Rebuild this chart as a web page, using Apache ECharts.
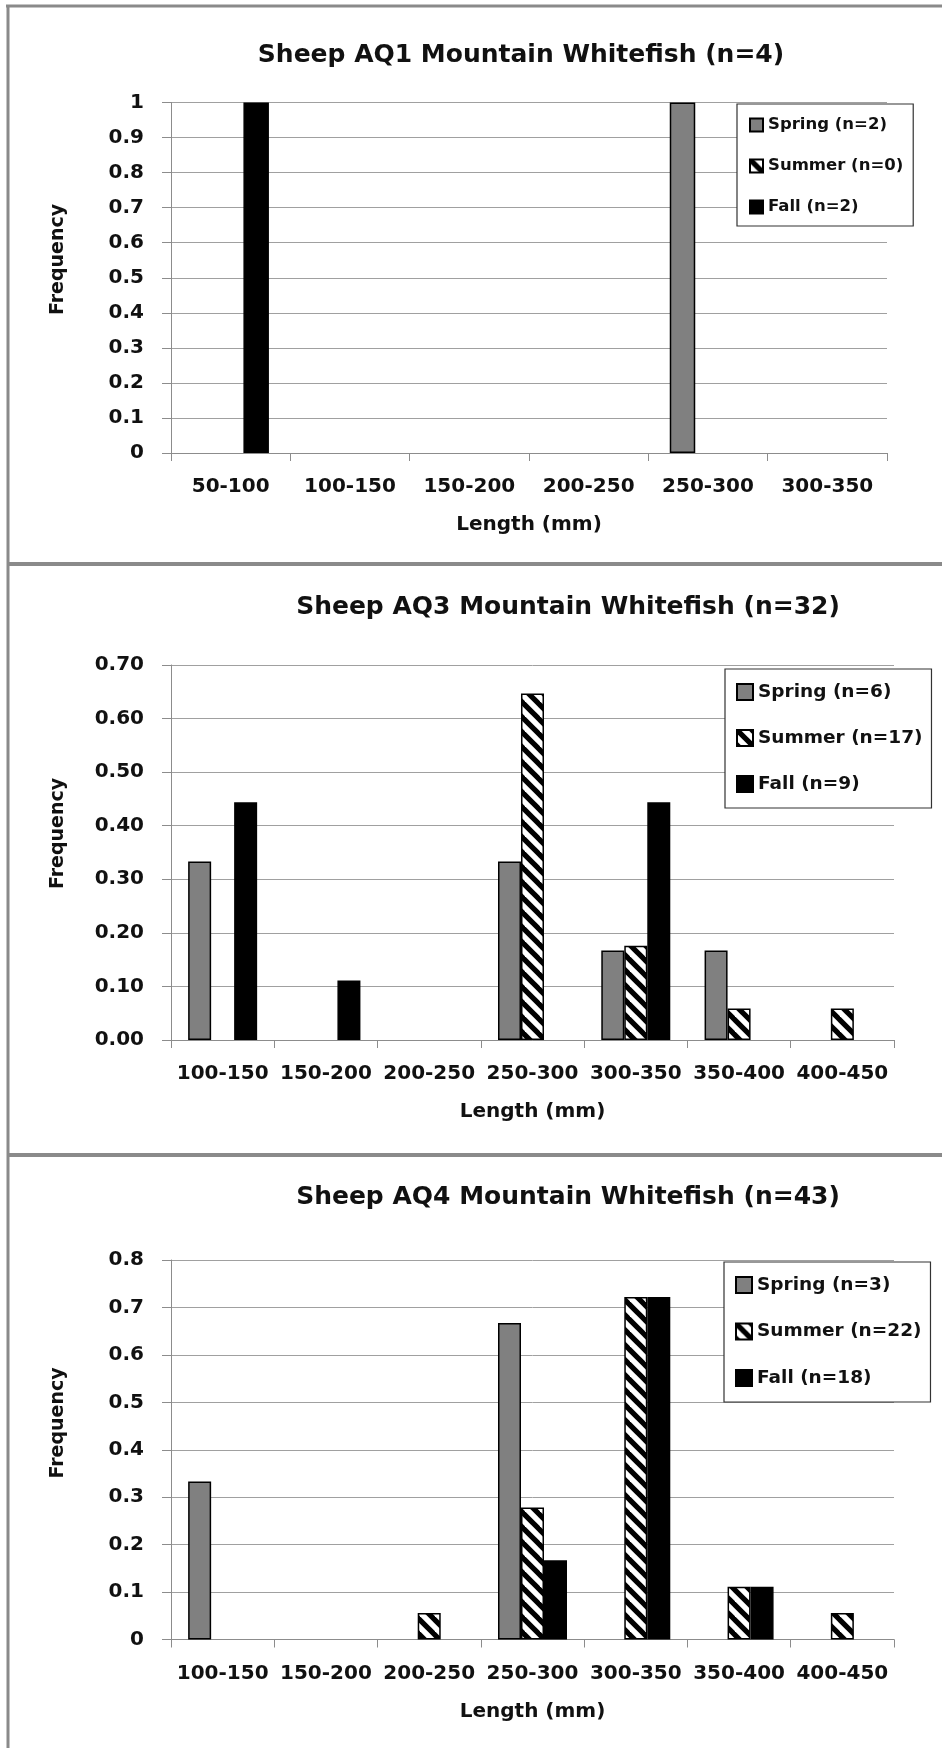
<!DOCTYPE html>
<html>
<head>
<meta charset="utf-8">
<script src="https://cdn.jsdelivr.net/npm/echarts@6/dist/echarts.min.js"></script>
<style>
html,body{margin:0;padding:0;background:#fff;}
#chart{width:942px;height:1748px;}
</style>
</head>
<body>
<div id="chart"></div>
<script>
// ---- data ----
const titles = ['Sheep AQ1 Mountain Whitefish (n=4)', 'Sheep AQ3 Mountain Whitefish (n=32)', 'Sheep AQ4 Mountain Whitefish (n=43)'];
const cats1 = ['50-100', '100-150', '150-200', '200-250', '250-300', '300-350'];
const cats2 = ['100-150', '150-200', '200-250', '250-300', '300-350', '350-400', '400-450'];
const cats3 = ['100-150', '150-200', '200-250', '250-300', '300-350', '350-400', '400-450'];
const names1 = ['Spring (n=2)', 'Summer (n=0)', 'Fall (n=2)'];
const names2 = ['Spring (n=6)', 'Summer (n=17)', 'Fall (n=9)'];
const names3 = ['Spring (n=3)', 'Summer (n=22)', 'Fall (n=18)'];
const spring1 = [0, 0, 0, 0, 1.0, 0];
const summer1 = [0, 0, 0, 0, 0, 0];
const fall1 = [1.0, 0, 0, 0, 0, 0];
const spring2 = [0.333, 0, 0, 0.333, 0.167, 0.167, 0];
const summer2 = [0, 0, 0, 0.647, 0.176, 0.059, 0.059];
const fall2 = [0.444, 0.111, 0, 0, 0.444, 0, 0];
const spring3 = [0.333, 0, 0, 0.667, 0, 0, 0];
const summer3 = [0, 0, 0.056, 0.278, 0.722, 0.111, 0.056];
const fall3 = [0, 0, 0, 0.167, 0.722, 0.111, 0];
const yMax = [1, 0.7, 0.8];
const yStep = [0.1, 0.1, 0.1];
const yDecimals = [null, 2, null];
const axisName = 'Length (mm)';
const yName = 'Frequency';

// ---- styling ----
const FONT = 'DejaVu Sans';
const gridBoxes = [
  {left: 171, top: 102.5, width: 716, height: 350.5},
  {left: 171, top: 665, width: 723, height: 375},
  {left: 171, top: 1260, width: 723, height: 379.5}
];
const barW = [25.5, 23, 23];
const titlePos = [[521, 55], [568, 607.5], [568, 1197]];
const freqPos = [[58, 259.5], [58, 833.5], [58, 1423]];
const legendPos = [
  {left: 737, top: 104, pad: [12, 10, 10, 12], icon: 13, fs: 16.5, lh: 18, gap: 23},
  {left: 725, top: 669, pad: [13, 9, 14, 11], icon: 16, fs: 18.5, lh: 20, gap: 26},
  {left: 724, top: 1262, pad: [13, 9, 14, 11], icon: 16, fs: 18.5, lh: 20, gap: 26.5}
];

function hatch() {
  const c = document.createElement('canvas');
  const p = 15;
  c.width = p; c.height = p;
  const ctx = c.getContext('2d');
  ctx.fillStyle = '#fff';
  ctx.fillRect(0, 0, p, p);
  ctx.strokeStyle = '#000';
  ctx.lineWidth = 5.2;
  for (let k = -1; k <= 1; k++) {
    ctx.beginPath();
    ctx.moveTo(k * p - 5, -5);
    ctx.lineTo(k * p + p + 5, p + 5);
    ctx.stroke();
  }
  return c;
}
const hatchPattern = {image: hatch(), repeat: 'repeat'};

const fills = ['#808080', hatchPattern, '#000000'];
const cats = [cats1, cats2, cats3];
const names = [names1, names2, names3];
const values = [[spring1, summer1, fall1], [spring2, summer2, fall2], [spring3, summer3, fall3]];

const grid = [], xAxis = [], yAxis = [], series = [], legend = [], graphic = [];

for (let i = 0; i < 3; i++) {
  grid.push(Object.assign({containLabel: false}, gridBoxes[i]));
  xAxis.push({
    type: 'category', gridIndex: i, data: cats[i],
    axisLine: {lineStyle: {color: '#8c8c8c', width: 1}},
    axisTick: {show: true, length: 8, interval: 0, lineStyle: {color: '#8c8c8c'}},
    axisLabel: {interval: 0, margin: 24, color: '#111', fontFamily: FONT, fontWeight: 'bold', fontSize: 20, hideOverlap: false},
    name: axisName, nameLocation: 'middle', nameGap: 62,
    nameTextStyle: {color: '#111', fontFamily: FONT, fontWeight: 'bold', fontSize: 20}
  });
  const dec = yDecimals[i];
  yAxis.push({
    type: 'value', gridIndex: i, min: 0, max: yMax[i], interval: yStep[i],
    axisLine: {show: true, lineStyle: {color: '#8c8c8c', width: 1}},
    axisTick: {show: true, length: 9, lineStyle: {color: '#8c8c8c'}},
    splitLine: {show: true, lineStyle: {color: '#a0a0a0', width: 1}},
    axisLabel: {
      margin: 27, color: '#111', fontFamily: FONT, fontWeight: 'bold', fontSize: 20,
      formatter: function (v) { return dec ? v.toFixed(dec) : String(Math.round(v * 10) / 10); }
    }
  });
  for (let s = 0; s < 3; s++) {
    series.push({
      type: 'bar', name: names[i][s], xAxisIndex: i, yAxisIndex: i,
      data: values[i][s].map(v => (v === 0 ? null : v)),
      barWidth: barW[i], barGap: '0%',
      itemStyle: {color: fills[s], borderColor: '#000', borderWidth: 1.5},
      emphasis: {disabled: true},
      animation: false
    });
  }
  const L = legendPos[i];
  legend.push({
    orient: 'vertical', left: L.left, top: L.top, padding: L.pad,
    data: names[i], icon: 'rect', itemWidth: L.icon, itemHeight: L.icon,
    itemGap: L.gap, selectedMode: false,
    borderColor: '#333', borderWidth: 1.2, backgroundColor: '#fff',
    textStyle: {color: '#111', fontFamily: FONT, fontWeight: 'bold', fontSize: L.fs, lineHeight: L.lh}
  });
  graphic.push({
    type: 'text', x: titlePos[i][0], y: titlePos[i][1],
    style: {text: titles[i], align: 'center', verticalAlign: 'middle', fill: '#111',
      font: 'bold 25px "' + FONT + '"'}
  });
  graphic.push({
    type: 'text', x: freqPos[i][0], y: freqPos[i][1], rotation: Math.PI / 2,
    style: {text: yName, align: 'center', verticalAlign: 'middle', fill: '#111',
      font: 'bold 19px "' + FONT + '"'}
  });
}

// panel frame lines
const frame = '#8a8a8a';
graphic.push({type: 'line', shape: {x1: 6, y1: 6, x2: 942, y2: 6}, style: {stroke: frame, lineWidth: 3}});
graphic.push({type: 'line', shape: {x1: 8, y1: 6, x2: 8, y2: 1748}, style: {stroke: frame, lineWidth: 3}});
graphic.push({type: 'line', shape: {x1: 8, y1: 564, x2: 942, y2: 564}, style: {stroke: frame, lineWidth: 4}});
graphic.push({type: 'line', shape: {x1: 8, y1: 1155, x2: 942, y2: 1155}, style: {stroke: frame, lineWidth: 4}});

const chart = echarts.init(document.getElementById('chart'), null, {renderer: 'canvas'});
chart.setOption({
  backgroundColor: '#fff',
  animation: false,
  grid: grid, xAxis: xAxis, yAxis: yAxis, series: series, legend: legend, graphic: graphic
});
</script>
</body>
</html>
